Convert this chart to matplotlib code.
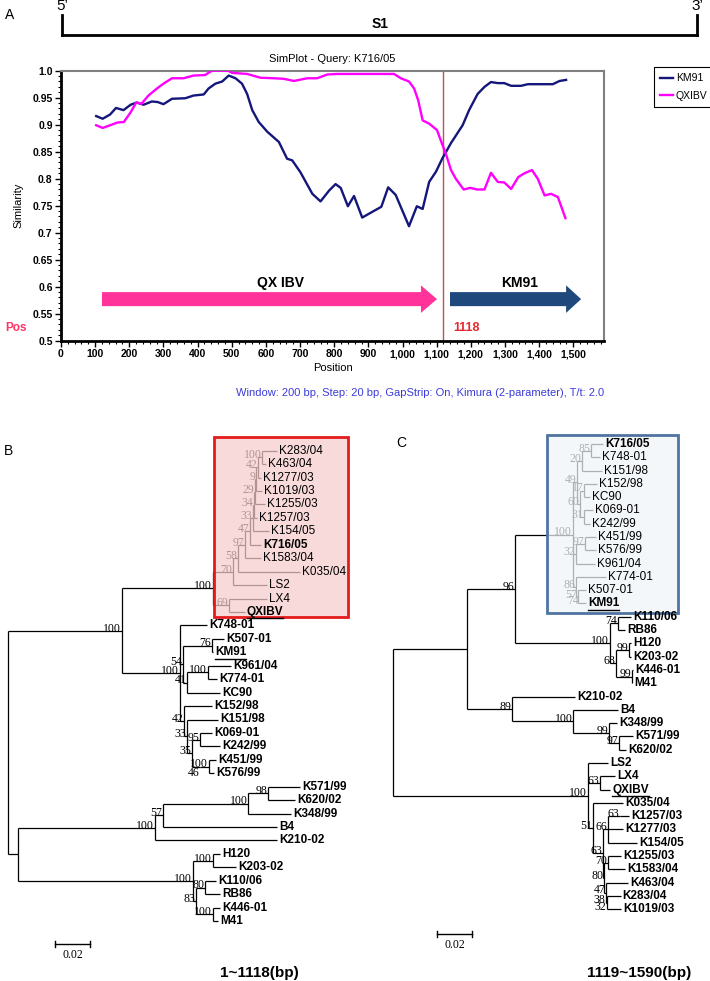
import matplotlib
matplotlib.use("Agg")
import matplotlib.pyplot as plt
from matplotlib.collections import LineCollection
from matplotlib.lines import Line2D
from matplotlib.patches import Rectangle, FancyArrow
from matplotlib.ticker import MultipleLocator, FuncFormatter

plt.rcParams['font.family'] = ['Liberation Sans', 'DejaVu Sans']
NARROW = ['Liberation Sans Narrow', 'Liberation Sans', 'DejaVu Sans']
SERIF = ['Liberation Serif', 'DejaVu Serif']

# ---------------- SimPlot (query K716/05)
km91_pos = [103, 122, 144, 161, 183, 204, 222, 242, 266, 283, 300, 325, 364, 388, 418,
            432, 452, 472, 491, 511, 530, 545, 560, 579, 604, 638, 662, 677, 701, 736,
            760, 785, 804, 819, 840, 858, 882, 907, 938, 958, 980, 1019, 1042, 1059,
            1078, 1098, 1117, 1142, 1176, 1195, 1220, 1240, 1259, 1279, 1298, 1318,
            1347, 1367, 1396, 1440, 1460, 1479]
km91_sim = [0.916, 0.911, 0.919, 0.931, 0.927, 0.937, 0.941, 0.937, 0.943, 0.942, 0.938,
            0.948, 0.949, 0.954, 0.956, 0.967, 0.976, 0.980, 0.991, 0.986, 0.976, 0.957,
            0.927, 0.905, 0.887, 0.868, 0.837, 0.834, 0.812, 0.772, 0.758, 0.778, 0.790,
            0.783, 0.749, 0.768, 0.728, 0.737, 0.748, 0.784, 0.770, 0.712, 0.749, 0.744,
            0.794, 0.813, 0.838, 0.866, 0.899, 0.927, 0.957, 0.970, 0.979, 0.977, 0.977,
            0.972, 0.972, 0.975, 0.975, 0.975, 0.981, 0.983]
qx_pos = [103, 122, 144, 165, 184, 204, 220, 236, 256, 281, 300, 325, 359, 388, 422, 442,
          489, 501, 545, 584, 623, 652, 682, 721, 750, 780, 809, 975, 995, 1019, 1034,
          1046, 1059, 1078, 1101, 1112, 1127, 1142, 1156, 1179, 1199, 1218, 1240, 1259,
          1279, 1298, 1318, 1339, 1357, 1379, 1396, 1416, 1435, 1455, 1477]
qx_sim = [0.899, 0.894, 0.899, 0.904, 0.905, 0.923, 0.941, 0.939, 0.954, 0.967, 0.976,
          0.986, 0.986, 0.991, 0.992, 1.0, 1.0, 0.996, 0.994, 0.987, 0.986, 0.985, 0.981,
          0.986, 0.986, 0.993, 0.994, 0.994, 0.986, 0.980, 0.967, 0.945, 0.908, 0.902,
          0.890, 0.871, 0.846, 0.816, 0.800, 0.780, 0.783, 0.780, 0.780, 0.811, 0.794,
          0.793, 0.781, 0.803, 0.810, 0.816, 0.800, 0.769, 0.772, 0.766, 0.727]
breakpoint = 1118
seq_len = 1590
y_ticks = [0.5, 0.55, 0.6, 0.65, 0.7, 0.75, 0.8, 0.85, 0.9, 0.95, 1.0]
y_tick_labels = ["0.5", "0.55", "0.6", "0.65", "0.7", "0.75", "0.8", "0.85", "0.9", "0.95", "1.0"]
qx_region = [120, 1101]
km91_region = [1139, 1523]

# ---------------- trees (newick, bootstrap as node labels)
qx_clade_b = ("(((((((((((K283/04:0.0086,K463/04:0.0023)100:0.0023,K1277/03:0.0017)42:0.0011,"
              "K1019/03:0.0034)9:0.0006,K1255/03:0.0057)29:0.0006,K1257/03:0.0017)34:0.0006,"
              "K154/05:0.0091)33:0.0017,K716/05:0.0063)47:0.0029,K1583/04:0.0091)97:0.0040,"
              "K035/04:0.0354)58:0.0029,LS2:0.0194)70:0.0114,(LX4:0.0217,QXIBV:0.0091)69:0.0091)100:0.0520")
km_clade_b = ("(K748-01:0.0154,((K507-01:0.0069,KM91:0.0006)76:0.0166,((K961/04:0.0131,"
              "K774-01:0.0051)100:0.0120,KC90:0.0189)41:0.0023)54:0.0017,(K152/98:0.0160,"
              "(K151/98:0.0177,((K069-01:0.0069,K242/99:0.0114)95:0.0046,((K451/99:0.0040,"
              "K576/99:0.0029)100:0.0051)46:0.0046)35:0.0029)33:0.0017)42:0.0023)100:0.0331")
rest_b = ("((((K571/99:0.0183,K620/02:0.0154)98:0.0114,K348/99:0.0246)100:0.0486,B4:0.0651)57:0.0046,"
          "K210-02:0.0697)100:0.0783,((H120:0.0040,K203-02:0.0131)100:0.0114,((K110/06:0.0063,"
          "RB86:0.0086)80:0.0051,(K446-01:0.0040,M41:0.0029)100:0.0097)83:0.0017)100:0.1000")
tree_b = "((" + qx_clade_b + "," + km_clade_b + ")100:0.0651,(" + rest_b + "):0.0057);"

km_clade_c = ("((((K716/05:0.0069,K748-01:0.0051)85:0.0051,K151/98:0.0114)20:0.0029,((K152/98:0.0074,"
              "KC90:0.0034)17:0.0023,(K069-01:0.0051,K242/99:0.0034)31:0.0023)60:0.0017)49:0.0023,"
              "((K451/99:0.0063,K576/99:0.0063)97:0.0051,K961/04:0.0109)32:0.0017,(K774-01:0.0171,"
              "(K507-01:0.0046,(KM91:0.0034)74:0.0011)57:0.0011)86:0.0017)100:0.0331")
mass_c = ("((K110/06:0.0074,RB86:0.0040)74:0.0046,((H120:0.0011,K203-02:0.0011)99:0.0074,"
          "(K446-01:0.0006,M41:0.0003)99:0.0091)68:0.0034)100:0.0543")
other_c = ("(K210-02:0.0360,(B4:0.0257,(K348/99:0.0046,(K571/99:0.0080,K620/02:0.0040)97:0.0057)"
           "99:0.0206)100:0.0349)89:0.0257")
qx_clade_c = ("(LS2:0.0114,(LX4:0.0086,QXIBV:0.0057)63:0.0069,(K035/04:0.0171,(((K1257/03:0.0051)63:0.0069,"
              "K1277/03:0.0086,K154/05:0.0166)66:0.0029,((K1255/03:0.0074,K1583/04:0.0097)70:0.0023,"
              "(K463/04:0.0126,(K283/04:0.0080,(K1019/03:0.0080)32:0.0003)38:0.0003)47:0.0011)80:0.0006)"
              "63:0.0057)51:0.0029)100:0.1114")
tree_c = "(((" + km_clade_c + "," + mass_c + ")96:0.0274," + other_c + "):0.0423," + qx_clade_c + ");"

bold_names = ["K716/05", "KM91", "QXIBV"]
underlined = ["KM91", "QXIBV"]
n_boxed = 13
scale_len = 0.02

W, H = 710, 981
PX = 0.02 / 35.0  # substitutions per pixel in both trees
fig = plt.figure(figsize=(W / 100, H / 100), dpi=100)


def px_axes(x0, y0, x1, y1):
    return fig.add_axes([x0 / W, 1 - y1 / H, (x1 - x0) / W, (y1 - y0) / H])


bg = px_axes(0, 0, W, H)
bg.set_xlim(0, W)
bg.set_ylim(H, 0)
bg.axis('off')

# ---------------- panel A header
bg.text(5, 15, "A", fontsize=10, va='center')
bg.plot([62, 697], [35, 35], color='black', lw=2)
bg.plot([62, 62], [15, 35], color='black', lw=2)
bg.plot([697, 697], [15, 35], color='black', lw=2)
bg.text(62, 6, "5\u2019", fontsize=11, ha='center', va='center')
bg.text(697, 6, "3\u2019", fontsize=11, ha='center', va='center')
bg.text(380, 24, "S1", fontsize=10, fontweight='bold', ha='center', va='center')
bg.text(5, 328, "Pos", fontsize=8.5, fontweight='bold', color='#FF3366', va='center')
bg.text(604, 393, "Window: 200 bp, Step: 20 bp, GapStrip: On, Kimura (2-parameter), T/t: 2.0",
        fontsize=8, family=NARROW, color='#3B3BD8', ha='right', va='center')

ax = px_axes(61, 70.7, 604, 340.7)
ax.plot(km91_pos, km91_sim, color='#15167A', lw=1.7, label='KM91', zorder=3)
ax.plot(qx_pos, qx_sim, color='#FF00FF', lw=1.7, label='QXIBV', zorder=3)
ax.axvline(breakpoint, color='#C0504D', lw=1, zorder=2)
ax.set_xlim(0, seq_len)
ax.set_ylim(0.5, 1.0)
ax.set_yticks(y_ticks)
ax.set_yticklabels(y_tick_labels)
ax.xaxis.set_major_locator(MultipleLocator(100))
ax.xaxis.set_minor_locator(MultipleLocator(20))
ax.yaxis.set_minor_locator(MultipleLocator(0.01))
ax.xaxis.set_major_formatter(FuncFormatter(lambda v, p: f"{int(round(v)):,}"))
ax.tick_params(which='major', length=4, width=1, direction='out', pad=2)
ax.tick_params(which='minor', length=2, width=0.8, direction='out')
for lab in ax.get_xticklabels() + ax.get_yticklabels():
    lab.set_family(NARROW)
    lab.set_fontsize(7.5)
    lab.set_fontweight('bold')
for s in ['left', 'bottom']:
    ax.spines[s].set_linewidth(2)
    ax.spines[s].set_color('black')
for s in ['top', 'right']:
    ax.spines[s].set_linewidth(1.5)
    ax.spines[s].set_color('#7F7F7F')
ax.set_title("SimPlot - Query: K716/05", fontsize=8, family=NARROW, pad=6)
ax.set_xlabel("Position", fontsize=8, family=NARROW, labelpad=3)
ax.set_ylabel("Similarity", fontsize=8, family=NARROW, labelpad=6)

arrow_y = 0.577
ax.add_patch(FancyArrow(qx_region[0], arrow_y, qx_region[1] - qx_region[0], 0, width=0.026,
                        head_width=0.051, head_length=47, length_includes_head=True,
                        color='#FF3399', lw=0, zorder=3))
ax.add_patch(FancyArrow(km91_region[0], arrow_y, km91_region[1] - km91_region[0], 0, width=0.026,
                        head_width=0.051, head_length=44, length_includes_head=True,
                        color='#1F497D', lw=0, zorder=3))
ax.text(643, 0.607, "QX IBV", fontsize=10, fontweight='bold', ha='center', va='center')
ax.text(1342, 0.607, "KM91", fontsize=10, fontweight='bold', ha='center', va='center')
ax.text(breakpoint + 30, 0.524, str(breakpoint), fontsize=9, fontweight='bold',
        color='#E8262F', ha='left', va='center')
leg = ax.legend(loc='upper left', bbox_to_anchor=(654 / W, 1 - 67 / H), bbox_transform=fig.transFigure,
                fancybox=False, edgecolor='black', framealpha=1, handlelength=1.2,
                handletextpad=0.3, borderpad=0.6, labelspacing=0.7, borderaxespad=0,
                prop={'family': NARROW, 'size': 7.5})
leg.get_frame().set_linewidth(0.8)


# ---------------- trees
def parse(s):
    pos = 0

    def node():
        nonlocal pos
        kids = []
        if s[pos] == '(':
            pos += 1
            kids.append(node())
            while s[pos] == ',':
                pos += 1
                kids.append(node())
            pos += 1
        start = pos
        while s[pos] not in ':,);':
            pos += 1
        name = s[start:pos]
        length = 0.0
        if s[pos] == ':':
            pos += 1
            start = pos
            while s[pos] not in ',);':
                pos += 1
            length = float(s[start:pos])
        return {'name': name, 'len': length, 'kids': kids}
    return node()


def place(n, x0, leaves):
    n['x'] = x0 + n['len']
    if n['kids']:
        for k in n['kids']:
            place(k, n['x'], leaves)
        n['y'] = (n['kids'][0]['y'] + n['kids'][-1]['y']) / 2
        n['lo'] = n['kids'][0]['lo']
        n['hi'] = n['kids'][-1]['hi']
    else:
        n['y'] = n['lo'] = n['hi'] = len(leaves)
        leaves.append(n)


def walk(n, segs, inner):
    for k in n['kids']:
        segs.append([(n['x'], k['y']), (k['x'], k['y'])])
        walk(k, segs, inner)
    if n['kids']:
        segs.append([(n['x'], n['kids'][0]['y']), (n['x'], n['kids'][-1]['y'])])
        inner.append(n)


to_underline = []


def draw_tree(ax, newick, box_x, box_y, face, alpha, edge):
    root = parse(newick)
    leaves = []
    place(root, 0.0, leaves)
    segs, inner = [], []
    walk(root, segs, inner)
    ax.add_collection(LineCollection(segs, colors='black', linewidths=0.9, zorder=2))
    for n in inner:
        if n['name']:
            # single-child nodes sit on their child's row, nudge their value down a little
            dy = -5 if len(n['kids']) == 1 and n['kids'][0]['kids'] else 1.5
            ax.annotate(n['name'], (n['x'], n['y']), xytext=(-0.5, dy), textcoords='offset points',
                        ha='right', va='center', family=SERIF, fontsize=8.5, zorder=2)
    box_node = [n for n in inner if n['lo'] == 0 and n['hi'] == n_boxed - 1][0]
    x0 = box_node['x'] + box_x[0] * PX
    x1 = box_node['x'] + box_x[1] * PX
    # translucent box laid over the clade, so its branches and bootstraps fade
    ax.add_patch(Rectangle((x0, box_y[0]), x1 - x0, box_y[1] - box_y[0], facecolor=face,
                           alpha=alpha, edgecolor='none', zorder=3))
    ax.add_patch(Rectangle((x0, box_y[0]), x1 - x0, box_y[1] - box_y[0], fill=False,
                           edgecolor=edge, lw=2, zorder=4))
    for leaf in leaves:
        inside = leaf['lo'] < n_boxed
        bold = (not inside) or leaf['name'] in bold_names
        t = ax.annotate(leaf['name'], (leaf['x'], leaf['y']), xytext=(1.5, 0), textcoords='offset points',
                        ha='left', va='center', fontsize=8.5, fontweight='bold' if bold else 'normal',
                        zorder=5)
        if leaf['name'] in underlined:
            to_underline.append(t)


def scale_bar(ax, x0, y, label_y):
    ax.plot([x0, x0 + scale_len], [y, y], color='black', lw=1)
    for xx in (x0, x0 + scale_len):
        ax.plot([xx, xx], [y - 0.25, y + 0.25], color='black', lw=1)
    ax.text(x0 + scale_len / 2, label_y, f"{scale_len:g}", family=SERIF, fontsize=8.5,
            ha='center', va='center')


ax_b = px_axes(0, 425, 355, 981)
ax_b.set_xlim(-8 * PX, 347 * PX)
ax_b.set_ylim((981 - 450.7) / 13.44, (425 - 450.7) / 13.44)
ax_b.axis('off')
draw_tree(ax_b, tree_b, (1, 135), (-1.0, 12.4), '#F8CCCC', 0.72, '#E31B1B')
scale_bar(ax_b, 47 * PX, 36.7, 37.5)

ax_c = px_axes(355, 425, 710, 981)
ax_c.set_xlim(-38 * PX, 317 * PX)
ax_c.set_ylim((981 - 444) / 13.29, (425 - 444) / 13.29)
ax_c.axis('off')
draw_tree(ax_c, tree_c, (-26, 105), (-0.68, 12.73), '#F0F4F9', 0.72, '#4F74A0')
scale_bar(ax_c, 44 * PX, 36.87, 37.7)

bg.text(4, 451, "B", fontsize=10, va='center')
bg.text(396, 443, "C", fontsize=10, va='center')
bg.text(259, 973, "1~1118(bp)", fontsize=11, fontweight='bold', ha='center', va='center')
bg.text(639, 973, "1119~1590(bp)", fontsize=11, fontweight='bold', ha='center', va='center')

fig.canvas.draw()
renderer = fig.canvas.get_renderer()
inv = fig.transFigure.inverted()
for t in to_underline:
    bb = t.get_window_extent(renderer)
    (ax0, ay0), (ax1, _) = inv.transform([(bb.x0, bb.y0 - 0.5), (bb.x1, bb.y0)])
    fig.add_artist(Line2D([ax0, ax1], [ay0, ay0], transform=fig.transFigure, color='black', lw=1))

fig.savefig("out.png", dpi=100)
